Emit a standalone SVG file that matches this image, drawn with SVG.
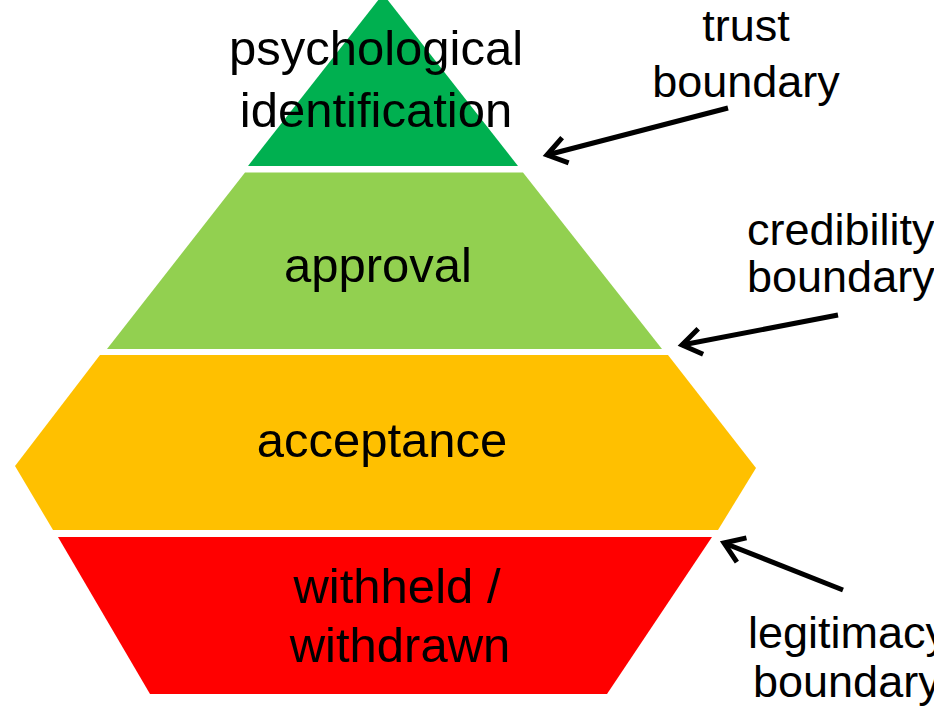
<svg xmlns="http://www.w3.org/2000/svg" width="934" height="711" viewBox="0 0 934 711">
<style>
text{font-family:"Liberation Sans",Arial,sans-serif;fill:#000}
.lbl{font-size:49px;text-anchor:middle}
.side{font-size:45px}
.arr{stroke:#000;stroke-width:5;fill:none}
</style>
<defs>
<marker id="ah" markerUnits="userSpaceOnUse" markerWidth="28" markerHeight="32" viewBox="0 0 28 32" refX="23" refY="16" orient="auto">
<path d="M4,3 L23,16 L4,29" fill="none" stroke="#000" stroke-width="5" stroke-linejoin="miter"/>
</marker>
</defs>
<rect width="934" height="711" fill="#fff"/>
<g id="identification">
<polygon points="383,-6 518,166 248,166" fill="#00b050"/>
<text class="lbl" x="376" y="65">psychological</text>
<text class="lbl" x="376" y="127">identification</text>
</g>
<g id="approval">
<polygon points="245,172.5 523,172.5 662,349 107,349" fill="#92d050"/>
<text class="lbl" x="378" y="282">approval</text>
</g>
<g id="acceptance">
<polygon points="100,355 668,355 756,468 718,530 53,530 15,466" fill="#ffc000"/>
<text class="lbl" x="382" y="457">acceptance</text>
</g>
<g id="withheld">
<polygon points="58,537 712,537 607,694 150,694" fill="#ff0000"/>
<text class="lbl" x="397" y="603">withheld /</text>
<text class="lbl" x="400" y="662">withdrawn</text>
</g>
<g id="labels">
<text class="side" x="746" y="41" text-anchor="middle">trust</text>
<text class="side" x="746" y="97" text-anchor="middle">boundary</text>
<text class="side" x="747" y="245">credibility</text>
<text class="side" x="747" y="292">boundary</text>
<text class="side" x="748" y="648">legitimacy</text>
<text class="side" x="753" y="697">boundary</text>
</g>
<g id="connectors">
<line class="arr" x1="728" y1="108" x2="547" y2="155" marker-end="url(#ah)"/>
<line class="arr" x1="838" y1="315" x2="682" y2="345" marker-end="url(#ah)"/>
<line class="arr" x1="843" y1="590" x2="724" y2="543" marker-end="url(#ah)"/>
</g>
</svg>
